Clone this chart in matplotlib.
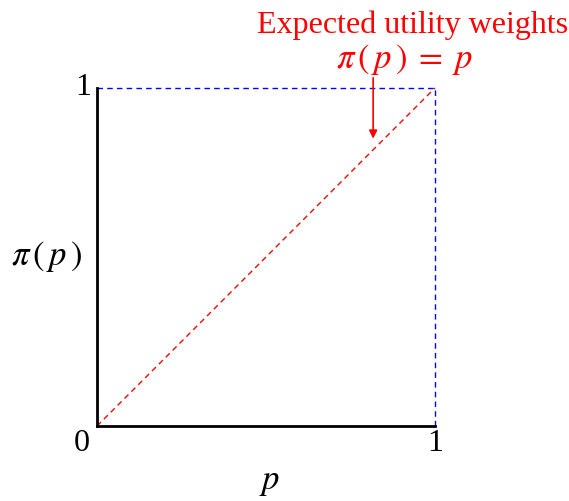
import matplotlib
matplotlib.use("Agg")
import matplotlib.pyplot as plt

plt.rcParams["font.family"] = ["Liberation Serif", "DejaVu Serif"]
plt.rcParams["mathtext.fontset"] = "stix"

# Expected utility weighting: pi(p) = p
diag_p = [0, 1]
diag_w = [0, 1]
# upper/right bounds of the unit square
top_p = [0, 1]
top_w = [1, 1]
right_p = [1, 1]
right_w = [0, 1]

RED = "#ff0000"
BLUE = "#0000ff"
DASH = (0, (4, 3))

fig = plt.figure(figsize=(5.69, 5.01), dpi=100)
ax = fig.add_axes([0.1705, 0.1497, 0.594, 0.6747])

ax.plot(diag_p, diag_w, color=RED, linewidth=1.0, linestyle=DASH, clip_on=False)
ax.plot(top_p, top_w, color=BLUE, linewidth=1.0, linestyle=DASH, clip_on=False)
ax.plot(right_p, right_w, color=BLUE, linewidth=1.0, linestyle=DASH, clip_on=False)

ax.set_xlim(0, 1)
ax.set_ylim(0, 1)
for side in ("top", "right"):
    ax.spines[side].set_visible(False)
for side in ("left", "bottom"):
    ax.spines[side].set_linewidth(2.0)
ax.set_xticks([])
ax.set_yticks([])

fs = 23
ax.text(-0.045, -0.052, "0", transform=ax.transAxes, ha="center", va="center", fontsize=fs)
ax.text(-0.042, 1.0, "1", transform=ax.transAxes, ha="center", va="center", fontsize=fs)
ax.text(1.0, -0.052, "1", transform=ax.transAxes, ha="center", va="center", fontsize=fs)

ax.text(-0.15, 0.5, r"$\pi\,(\,p\,)$", transform=ax.transAxes, ha="center", va="center", fontsize=25)
ax.text(0.51, -0.165, r"$p$", transform=ax.transAxes, ha="center", va="center", fontsize=25)

ax.text(0.935, 1.185, "Expected utility weights", transform=ax.transAxes,
        ha="center", va="center", fontsize=23, color=RED)
ax.text(0.91, 1.085, r"$\pi\,(\,p\,)\;=\;p$", transform=ax.transAxes,
        ha="center", va="center", fontsize=25, color=RED)
ax.annotate("", xy=(0.817, 0.85), xytext=(0.817, 1.03),
            xycoords="axes fraction", textcoords="axes fraction",
            arrowprops=dict(arrowstyle="-|>", color=RED, lw=1.2,
                            mutation_scale=12, shrinkA=0, shrinkB=0))

fig.savefig("out.png", dpi=100)
